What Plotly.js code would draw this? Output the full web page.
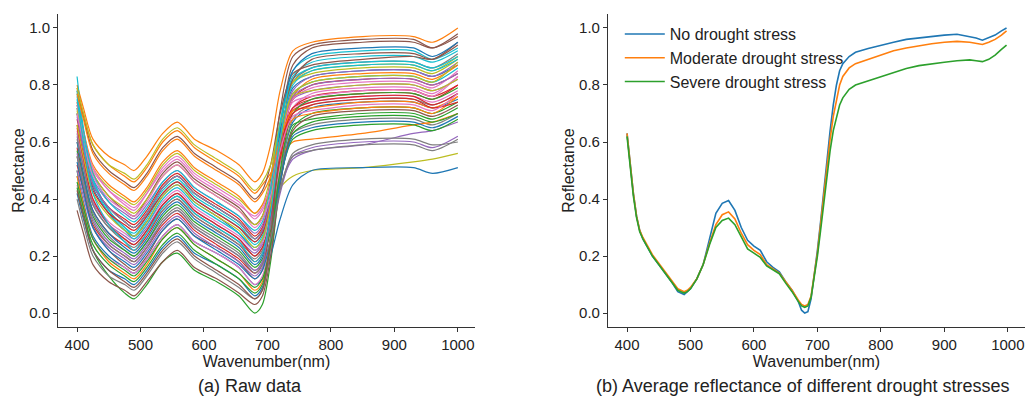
<!DOCTYPE html>
<html>
<head>
<meta charset="utf-8">
<script src="https://cdn.plot.ly/plotly-3.0.1.min.js"></script>
<style>html,body{margin:0;padding:0;background:#fff;}#chart{width:1027px;height:396px;}</style>
</head>
<body>
<div id="chart"></div>
<script>
// ---------- Panel (a): raw spectra ----------
const rawWavelengths = [400,410,425,450,475,490,510,535,558,585,620,655,680,692,705,720,740,770,850,930,960,1000];

const raw01 = [.72,.59,.44,.35,.29,.27,.32,.41,.45,.39,.34,.28,.22,.25,.38,.61,.79,.83,.85,.85,.83,.87];
const raw02 = [.80,.72,.61,.55,.52,.50,.55,.63,.67,.61,.57,.52,.46,.49,.59,.78,.92,.95,.97,.97,.95,1.00];
const raw03 = [.50,.37,.22,.13,.07,.05,.10,.18,.21,.15,.11,.06,.00,.03,.18,.45,.65,.70,.72,.72,.70,.74];
const raw04 = [.58,.48,.36,.28,.24,.22,.27,.36,.40,.34,.29,.24,.18,.21,.33,.55,.72,.76,.78,.78,.76,.80];
const raw05 = [.70,.60,.47,.39,.35,.33,.38,.46,.50,.44,.39,.34,.28,.31,.41,.60,.75,.78,.80,.80,.78,.82];
const raw06 = [.55,.44,.30,.22,.17,.15,.20,.29,.33,.27,.23,.18,.12,.15,.33,.63,.87,.93,.95,.95,.93,.98];
const raw07 = [.74,.63,.50,.43,.38,.36,.42,.51,.55,.49,.44,.39,.33,.36,.44,.60,.72,.74,.76,.76,.74,.78];
const raw08 = [.60,.49,.35,.27,.22,.20,.25,.33,.37,.31,.26,.21,.15,.18,.33,.60,.81,.86,.88,.88,.86,.91];
const raw09 = [.70,.59,.45,.37,.32,.30,.35,.44,.48,.42,.37,.32,.26,.29,.38,.44,.48,.50,.51,.53,.54,.56];
const raw10 = [.83,.65,.47,.36,.30,.27,.33,.42,.46,.40,.35,.30,.24,.27,.41,.65,.83,.88,.90,.90,.88,.92];
const raw11 = [.48,.39,.27,.20,.16,.14,.19,.27,.31,.25,.21,.16,.10,.12,.20,.33,.45,.50,.51,.51,.49,.51];
const raw12 = [.48,.38,.26,.18,.14,.12,.17,.26,.30,.24,.19,.14,.08,.11,.27,.55,.76,.82,.84,.84,.82,.87];
const raw13 = [.70,.59,.45,.37,.32,.30,.35,.44,.48,.42,.37,.32,.26,.29,.37,.53,.66,.68,.70,.70,.68,.72];
const raw14 = [.52,.43,.31,.24,.20,.18,.23,.31,.35,.29,.24,.19,.14,.17,.31,.56,.75,.80,.82,.82,.80,.84];
const raw15 = [.62,.52,.39,.31,.27,.25,.30,.38,.42,.36,.31,.26,.21,.24,.30,.44,.54,.57,.59,.63,.64,.67];
const raw16 = [.73,.62,.49,.41,.36,.34,.40,.49,.53,.47,.42,.37,.31,.34,.47,.71,.90,.94,.96,.96,.93,.97];
const raw17 = [.45,.36,.26,.19,.16,.14,.19,.27,.31,.25,.21,.16,.10,.13,.27,.53,.72,.77,.79,.79,.77,.83];
const raw18 = [.63,.52,.38,.30,.25,.23,.28,.36,.40,.34,.29,.24,.19,.22,.31,.49,.63,.66,.68,.68,.66,.70];
const raw19 = [.72,.63,.51,.44,.40,.38,.43,.52,.56,.50,.45,.40,.35,.38,.48,.67,.81,.84,.86,.86,.84,.89];
const raw20 = [.77,.63,.47,.36,.30,.28,.34,.43,.47,.41,.36,.31,.25,.28,.42,.67,.85,.90,.92,.92,.89,.93];
const raw21 = [.42,.33,.22,.15,.12,.10,.15,.23,.27,.21,.17,.12,.06,.09,.23,.48,.67,.72,.74,.74,.72,.75];
const raw22 = [.79,.70,.59,.52,.48,.46,.51,.60,.64,.58,.53,.48,.42,.45,.49,.55,.60,.61,.63,.66,.67,.70];
const raw23 = [.57,.47,.34,.26,.22,.20,.25,.34,.38,.32,.27,.22,.16,.19,.29,.47,.61,.64,.66,.66,.64,.68];
const raw24 = [.68,.58,.45,.37,.33,.31,.36,.45,.49,.43,.38,.33,.27,.30,.40,.58,.72,.75,.77,.77,.75,.80];
const raw25 = [.50,.41,.30,.23,.19,.17,.22,.30,.34,.28,.23,.18,.13,.16,.25,.42,.55,.58,.60,.60,.58,.62];
const raw26 = [.78,.69,.57,.50,.46,.44,.49,.58,.62,.56,.51,.46,.40,.43,.52,.70,.84,.87,.89,.90,.89,.95];
const raw27 = [.64,.53,.40,.32,.28,.26,.31,.39,.43,.37,.32,.27,.22,.25,.37,.59,.75,.79,.81,.81,.79,.85];
const raw28 = [.40,.31,.20,.13,.10,.08,.13,.21,.25,.19,.14,.09,.05,.08,.23,.48,.68,.73,.75,.75,.73,.77];
const raw29 = [.71,.61,.49,.41,.37,.35,.40,.48,.52,.46,.41,.36,.31,.34,.45,.66,.81,.85,.87,.87,.85,.90];
const raw30 = [.78,.63,.46,.35,.29,.26,.31,.40,.44,.38,.33,.28,.23,.26,.38,.60,.77,.81,.83,.83,.81,.86];
const raw31 = [.60,.49,.36,.28,.23,.21,.26,.35,.39,.33,.28,.23,.17,.20,.36,.64,.85,.91,.93,.93,.90,.95];
const raw32 = [.74,.64,.52,.45,.41,.39,.44,.53,.57,.51,.46,.41,.35,.38,.44,.58,.68,.70,.72,.72,.70,.76];
const raw33 = [.46,.37,.26,.19,.15,.13,.18,.26,.30,.24,.19,.14,.09,.12,.24,.46,.63,.67,.69,.69,.67,.70];
const raw34 = [.66,.56,.43,.35,.31,.29,.34,.42,.46,.40,.35,.30,.25,.28,.38,.57,.71,.74,.76,.76,.73,.77];
const raw35 = [.56,.46,.33,.25,.21,.19,.24,.32,.36,.30,.25,.20,.15,.18,.33,.58,.78,.83,.85,.85,.83,.88];
const raw36 = [.36,.28,.17,.11,.08,.06,.11,.18,.22,.16,.12,.07,.03,.06,.20,.45,.64,.69,.71,.71,.69,.73];
const raw37 = [.73,.63,.51,.43,.39,.37,.42,.50,.54,.48,.43,.38,.34,.37,.45,.61,.74,.76,.78,.78,.76,.83];
const raw38 = [.61,.51,.38,.30,.26,.24,.29,.37,.41,.35,.30,.25,.20,.23,.30,.44,.55,.57,.59,.59,.57,.61];
const raw39 = [.79,.70,.59,.52,.49,.47,.52,.61,.65,.59,.54,.49,.43,.46,.52,.66,.76,.78,.80,.80,.78,.82];
const raw40 = [.76,.64,.49,.39,.34,.32,.37,.46,.50,.44,.39,.34,.29,.32,.44,.66,.82,.86,.88,.88,.86,.90];
const raw41 = [.53,.43,.30,.22,.18,.16,.21,.29,.33,.27,.22,.17,.12,.15,.26,.46,.62,.65,.67,.67,.65,.69];
const raw42 = [.77,.68,.56,.49,.45,.43,.48,.57,.61,.55,.50,.45,.39,.42,.48,.61,.71,.72,.74,.74,.72,.76];
const raw43 = [.44,.35,.24,.17,.13,.11,.16,.24,.28,.22,.17,.12,.07,.10,.25,.50,.70,.75,.77,.77,.75,.79];
const raw44 = [.65,.54,.40,.31,.26,.24,.29,.38,.42,.36,.31,.26,.20,.23,.34,.54,.70,.73,.75,.75,.72,.74];
const raw45 = [.69,.58,.45,.37,.32,.30,.35,.44,.48,.42,.37,.32,.26,.29,.40,.61,.76,.80,.82,.82,.80,.84];
const raw46 = [.43,.34,.22,.15,.11,.09,.14,.22,.26,.20,.15,.10,.05,.08,.27,.58,.82,.89,.91,.91,.89,.94];
const raw47 = [.70,.60,.48,.40,.36,.34,.39,.48,.52,.46,.41,.36,.30,.33,.41,.57,.69,.71,.73,.73,.71,.77];
const raw48 = [.55,.45,.32,.24,.20,.18,.23,.32,.36,.30,.25,.20,.14,.17,.26,.43,.56,.59,.61,.61,.59,.60];
const raw49 = [.66,.55,.42,.34,.29,.27,.32,.41,.45,.39,.34,.29,.23,.26,.38,.60,.77,.81,.83,.83,.81,.88];
const raw50 = [.75,.60,.42,.31,.25,.22,.28,.37,.41,.35,.30,.25,.18,.21,.35,.61,.80,.85,.87,.87,.85,.89];

const rawSpectra = [raw01,raw02,raw03,raw04,raw05,raw06,raw07,raw08,raw09,raw10,
  raw11,raw12,raw13,raw14,raw15,raw16,raw17,raw18,raw19,raw20,
  raw21,raw22,raw23,raw24,raw25,raw26,raw27,raw28,raw29,raw30,
  raw31,raw32,raw33,raw34,raw35,raw36,raw37,raw38,raw39,raw40,
  raw41,raw42,raw43,raw44,raw45,raw46,raw47,raw48,raw49,raw50];

// ---------- Panel (b): average reflectance ----------
const avgWavelengths = [400,405,410,415,420,425,430,440,450,460,470,480,485,490,495,500,510,520,530,540,550,555,560,570,580,590,600,610,620,630,640,650,660,670,675,680,685,690,695,700,705,710,715,720,725,730,735,740,750,760,780,800,820,840,860,880,900,920,940,950,960,970,980,990,998];
const noDrought = [.63,.52,.42,.34,.29,.26,.24,.20,.17,.14,.11,.075,.07,.065,.075,.085,.12,.17,.26,.35,.385,.39,.395,.36,.30,.255,.235,.22,.18,.16,.145,.11,.08,.04,.01,.00,.005,.05,.13,.22,.32,.43,.55,.64,.73,.80,.85,.875,.90,.915,.928,.94,.95,.96,.965,.972,.975,.978,.97,.965,.957,.965,.975,.99,1.0];
const moderateDrought = [.63,.52,.42,.34,.29,.265,.245,.205,.175,.145,.115,.085,.08,.075,.08,.09,.12,.17,.245,.31,.345,.35,.355,.33,.28,.24,.22,.205,.17,.155,.14,.11,.08,.045,.03,.025,.03,.06,.13,.21,.31,.41,.52,.61,.69,.75,.80,.83,.86,.875,.89,.905,.92,.93,.938,.945,.95,.953,.95,.945,.942,.95,.96,.975,.99];
const severeDrought = [.62,.51,.41,.335,.285,.26,.24,.20,.17,.14,.11,.08,.075,.07,.075,.085,.12,.17,.24,.30,.325,.33,.333,.31,.265,.225,.21,.195,.165,.15,.138,.105,.075,.04,.025,.02,.025,.055,.12,.20,.29,.39,.49,.57,.64,.69,.73,.755,.785,.80,.815,.83,.845,.858,.868,.875,.88,.885,.888,.885,.882,.89,.905,.925,.94];
const avgNames = ['No drought stress','Moderate drought stress','Severe drought stress'];

// ---------- Text ----------
const xTitle = 'Wavenumber(nm)';
const yTitle = 'Reflectance';
const captionA = '(a) Raw data';
const captionB = '(b) Average reflectance of different drought stresses';
const xTicks = [400,500,600,700,800,900,1000];
const yTicks = [0,0.2,0.4,0.6,0.8,1.0];
const yTickText = ['0.0','0.2','0.4','0.6','0.8','1.0'];

const palette = ['#1f77b4','#ff7f0e','#2ca02c','#d62728','#9467bd','#8c564b','#e377c2','#7f7f7f','#bcbd22','#17becf'];

const traces = [];
rawSpectra.forEach((s, i) => {
  traces.push({
    x: rawWavelengths, y: s, type: 'scatter', mode: 'lines',
    line: {color: palette[i % 10], width: 1.2, shape: 'spline', smoothing: 0.8},
    xaxis: 'x', yaxis: 'y', showlegend: false, hoverinfo: 'skip'
  });
});
[noDrought, moderateDrought, severeDrought].forEach((s, i) => {
  traces.push({
    x: avgWavelengths, y: s, type: 'scatter', mode: 'lines', name: avgNames[i],
    line: {color: palette[i], width: 1.6},
    xaxis: 'x2', yaxis: 'y2'
  });
});

const axisFont = {family: 'Liberation Sans, Arial, sans-serif', size: 15, color: '#222'};
const titleFont = {family: 'Liberation Sans, Arial, sans-serif', size: 16, color: '#222'};
function xAxis(domain, anchor) {
  return {
    domain: domain, anchor: anchor, range: [370, 1027], tickvals: xTicks,
    ticks: 'outside', ticklen: 4, tickwidth: 1, tickcolor: '#333',
    showline: true, linecolor: '#333', linewidth: 1, mirror: false,
    showgrid: false, zeroline: false, tickfont: axisFont, automargin: false,
    title: {text: xTitle, font: titleFont, standoff: 2}
  };
}
function yAxis(domain, anchor) {
  return {
    domain: domain, anchor: anchor, range: [-0.049, 1.049], tickvals: yTicks, ticktext: yTickText,
    ticks: 'outside', ticklen: 4, tickwidth: 1, tickcolor: '#333',
    showline: true, linecolor: '#333', linewidth: 1, mirror: false,
    showgrid: false, zeroline: false, tickfont: axisFont, automargin: false,
    title: {text: yTitle, font: titleFont, standoff: 0}
  };
}

const layout = {
  width: 1027, height: 396,
  margin: {l: 0, r: 0, t: 0, b: 0},
  paper_bgcolor: '#fff', plot_bgcolor: '#fff',
  font: {family: 'Liberation Sans, Arial, sans-serif', color: '#222'},
  xaxis: xAxis([0.0565, 0.4625], 'y'),
  yaxis: yAxis([0.1742, 0.9646], 'x'),
  xaxis2: xAxis([0.592, 0.998], 'y2'),
  yaxis2: yAxis([0.1742, 0.9646], 'x2'),
  legend: {
    x: 0.6035, xanchor: 'left', y: 0.957, yanchor: 'top',
    bgcolor: 'rgba(0,0,0,0)', borderwidth: 0,
    font: {family: 'Liberation Sans, Arial, sans-serif', size: 16, color: '#222'},
    itemwidth: 40, tracegroupgap: 0
  },
  showlegend: true,
  annotations: [
    {text: captionA, xref: 'paper', yref: 'paper', x: 0.2434, y: 0.025, xanchor: 'center', yanchor: 'middle',
     showarrow: false, font: {family: 'Liberation Sans, Arial, sans-serif', size: 18, color: '#222'}},
    {text: captionB, xref: 'paper', yref: 'paper', x: 0.782, y: 0.025, xanchor: 'center', yanchor: 'middle',
     showarrow: false, font: {family: 'Liberation Sans, Arial, sans-serif', size: 18, color: '#222'}}
  ]
};

Plotly.newPlot('chart', traces, layout, {displayModeBar: false, staticPlot: true});
</script>
</body>
</html>
